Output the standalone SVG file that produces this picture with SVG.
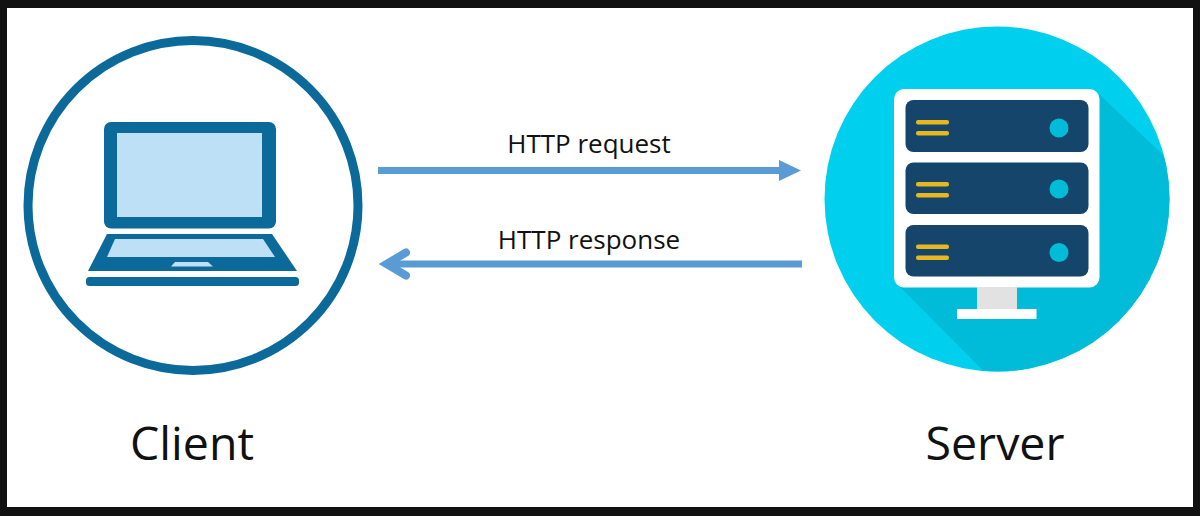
<svg xmlns="http://www.w3.org/2000/svg" width="1200" height="516" viewBox="0 0 1200 516">
<style>
.lbl{font-family:"Open Sans","Noto Sans","Liberation Sans",sans-serif;fill:#111}
.sm{font-size:26px}
.lg{font-size:46.500px}
.dark{fill:#0b6a9a}
.light{fill:#bde0f7}
.tray{fill:#15456a}
.led{fill:#00bcd8}
.bar{fill:#e9b81e}
.conn{stroke:#5b9bd5;stroke-width:7;fill:none}
</style>
<defs>
<clipPath id="disc"><circle cx="997" cy="199" r="172.500"/></clipPath>
</defs>
<rect width="1200" height="516" fill="#111"/>
<rect x="7" y="8" width="1186" height="499" fill="#fff"/>
<g id="client">
<circle cx="193" cy="205.500" r="165" fill="none" stroke="#0b6a9a" stroke-width="9"/>
<rect class="dark" x="104" y="122" width="172" height="106.500" rx="7"/>
<rect class="light" x="117" y="133" width="145" height="84"/>
<path class="dark" d="M107 234H272L297 271H88Z"/>
<path class="light" d="M115 239H263L275 257H107Z"/>
<path class="light" d="M175 262H208L213 266.500H171Z"/>
<rect class="dark" x="86" y="277" width="213" height="9" rx="3.500"/>
<text class="lbl lg" x="192" y="460" text-anchor="middle">Client</text>
</g>
<g id="server">
<circle cx="997" cy="199" r="172.500" fill="#00d0ee"/>
<path clip-path="url(#disc)" d="M1099 94L1200 190V400H1012L900 287Z" fill="#00bcd8"/>
<rect x="894" y="89" width="205.500" height="198.500" rx="10" fill="#fff"/>
<rect class="tray" x="905.500" y="100" width="183" height="52" rx="8"/>
<rect class="tray" x="905.500" y="162.500" width="183" height="51.500" rx="8"/>
<rect class="tray" x="905.500" y="225" width="183" height="51.500" rx="8"/>
<rect class="bar" x="916" y="120" width="33" height="4.500" rx="2"/>
<rect class="bar" x="916" y="131" width="33" height="4.500" rx="2"/>
<rect class="bar" x="916" y="182" width="33" height="4.500" rx="2"/>
<rect class="bar" x="916" y="193" width="33" height="4.500" rx="2"/>
<rect class="bar" x="916" y="244.500" width="33" height="4.500" rx="2"/>
<rect class="bar" x="916" y="255.500" width="33" height="4.500" rx="2"/>
<circle class="led" cx="1059" cy="128" r="9.500"/>
<circle class="led" cx="1059" cy="189" r="9.500"/>
<circle class="led" cx="1059" cy="252.500" r="9.500"/>
<rect x="977" y="287" width="40" height="23" fill="#e2e2e2"/>
<rect x="957" y="309" width="79.500" height="10" fill="#fff"/>
<text class="lbl lg" x="995" y="460" text-anchor="middle">Server</text>
</g>
<g id="connectors">
<path class="conn" d="M378 170.500H782"/>
<path d="M779 160L801 170.500L779 181Z" fill="#5b9bd5"/>
<path class="conn" d="M802 264H392"/>
<path d="M406 252.500L386.500 264L406 275.500" fill="none" stroke="#5b9bd5" stroke-width="8" stroke-linecap="round" stroke-linejoin="miter"/>
<text class="lbl sm" x="589" y="153" text-anchor="middle">HTTP request</text>
<text class="lbl sm" x="589" y="249" text-anchor="middle">HTTP response</text>
</g>
</svg>
